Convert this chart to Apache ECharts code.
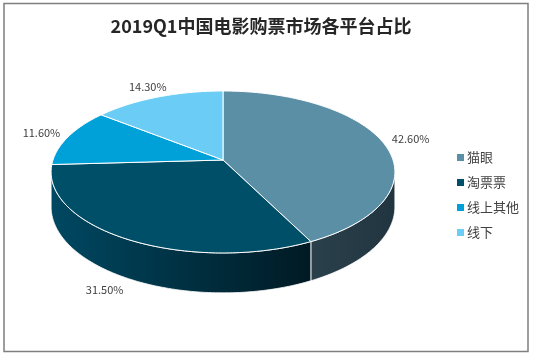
<!DOCTYPE html>
<html>
<head>
<meta charset="utf-8">
<script src="https://cdn.jsdelivr.net/npm/echarts@6/dist/echarts.min.js"></script>
<style>html,body{margin:0;padding:0;background:#fff}#c{width:533px;height:357px}</style>
</head>
<body>
<div id="c"></div>
<script>
const categories = ['猫眼', '淘票票', '线上其他', '线下'];
const values = [42.6, 31.5, 11.6, 14.3];
const titleText = '2019Q1中国电影购票市场各平台占比';

const topColors = ['#5b8fa6', '#004f69', '#00a1d9', '#6bcdf5'];
const wallColors = [['#2a404b', '#213540'], ['#004862', '#001a24'], ['#00789f', '#005a78'], ['#4f9ab8', '#3c7a93']];

const CX = 223, CY = 160, A = 170, B = 79.2, K = 0.148, D = 34;
const FONT = '"Noto Sans CJK SC", "Noto Sans", sans-serif';

function P(t, r, dy) {
  const u = r * Math.cos(t), v = r * Math.sin(t);
  const s = 1 / (1 - K * v);
  return [CX + A * u * s, CY + B * v * s + dy * s];
}
function arc(t0, t1, r, dyFn) {
  const pts = [];
  const n = Math.max(2, Math.ceil(Math.abs(t1 - t0) / (Math.PI / 180)));
  for (let i = 0; i <= n; i++) {
    const t = t0 + (t1 - t0) * i / n;
    pts.push(P(t, r, dyFn ? dyFn(t) : 0));
  }
  return pts;
}

const total = values.reduce((a, b) => a + b, 0);

function renderSlice(idx) {
  return function (params, api) {
    let before = 0;
    for (let j = 0; j < idx; j++) before += values[j];
    const val = api.value(0);
    const ts = -Math.PI / 2 + 2 * Math.PI * before / total;
    const te = ts + 2 * Math.PI * val / total;
    const children = [];
    const tmin = Math.asin(K), tmax = Math.PI - Math.asin(K);
    const w0 = Math.max(ts, tmin), w1 = Math.min(te, tmax);
    if (w1 > w0) {
      const topArc = arc(w0, w1, 1, null);
      const botArc = arc(w1, w0, 1, () => D);
      children.push({
        type: 'polygon',
        z2: 1,
        shape: { points: topArc.concat(botArc) },
        style: {
          fill: { type: 'linear', x: 0, y: 0, x2: 1, y2: 0,
            colorStops: [{ offset: 0, color: wallColors[idx][0] }, { offset: 1, color: wallColors[idx][1] }] },
          stroke: '#ffffff', lineWidth: 0.8
        }
      });
    }
    const topPts = [[CX, CY]].concat(arc(ts, te, 1, null));
    children.push({
      type: 'polygon',
      z2: 10,
      shape: { points: topPts },
      style: { fill: topColors[idx], stroke: '#ffffff', lineWidth: 1 }
    });
    const mid = (ts + te) / 2;
    const lp = P(mid, 1.18, D * Math.max(0, Math.sin(mid)));
    children.push({
      type: 'text',
      z2: 30,
      x: lp[0], y: lp[1],
      style: {
        text: val.toFixed(2) + '%',
        fill: '#404040',
        font: '11px ' + FONT,
        align: 'center',
        verticalAlign: 'middle'
      }
    });
    return { type: 'group', children: children };
  };
}

const chart = echarts.init(document.getElementById('c'));
chart.setOption({
  animation: false,
  color: topColors,
  title: {
    text: titleText,
    left: 261,
    textAlign: 'center',
    top: 17,
    padding: 0,
    textStyle: { fontSize: 18, fontWeight: 'bold', color: '#262626', fontFamily: FONT }
  },
  legend: {
    orient: 'vertical',
    left: 452,
    top: 146,
    itemWidth: 7,
    itemHeight: 7,
    itemGap: 12,
    icon: 'rect',
    data: categories,
    textStyle: { fontSize: 13, color: '#404040', fontFamily: FONT, padding: [0, 0, 0, -2] }
  },
  graphic: [{
    type: 'rect',
    shape: { x: 4, y: 3.5, width: 524, height: 348 },
    style: { fill: 'none', stroke: '#7f7f7f', lineWidth: 1.5 },
    silent: true
  }],
  series: categories.map((name, i) => ({
    type: 'custom',
    name: name,
    coordinateSystem: 'none',
    silent: true,
    itemStyle: { color: topColors[i] },
    renderItem: renderSlice(i),
    data: [[values[i]]]
  }))
});
</script>
</body>
</html>
